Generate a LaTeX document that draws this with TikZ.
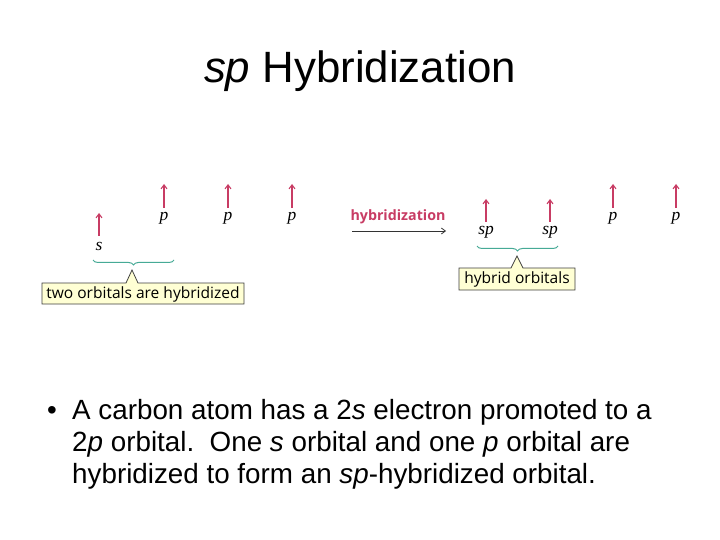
\documentclass[tikz,border=0pt]{standalone}
\usepackage{fontspec}
\setmainfont{Liberation Sans}
\newfontfamily\lblfont{Open Sans}
\newfontfamily\orbfont{Liberation Serif}
\usetikzlibrary{arrows.meta,decorations.pathreplacing}
\definecolor{spin}{RGB}{200,60,100}
\definecolor{brc}{RGB}{70,170,150}
\definecolor{boxfill}{RGB}{255,255,212}
\tikzset{
  spinarrow/.style={draw=spin,line width=1.1pt,-{Straight Barb[length=4pt,width=6pt]}},
  orb/.style={font=\orbfont\itshape\fontsize{17.5}{18}\selectfont,inner sep=0pt},
  brc/.style={draw=brc,line width=1pt,decorate,decoration={brace,amplitude=5pt}},
  callout/.style={draw=black!75,fill=boxfill,line width=0.8pt},
  lbl/.style={font=\lblfont\fontsize{15.6}{16}\selectfont,inner sep=0pt},
  body/.style={font=\fontsize{27.9}{30}\selectfont,anchor=base west,inner sep=0pt}
}
\begin{document}
\begin{tikzpicture}[x=1bp,y=-1bp]
\useasboundingbox[fill=white] (0,0) rectangle (720,540);
% title
\node[font=\fontsize{44}{48}\selectfont,anchor=base,inner sep=0pt] (title) at (360,83) {\textit{sp} Hybridization};
% left configuration
\node[orb] (s1) at (99,246) {s};
\node[orb] (p1) at (164,218) {p};
\node[orb] (p2) at (228,218) {p};
\node[orb] (p3) at (292,218) {p};
\coordinate (s1b) at (99,236); \coordinate (s1t) at (99,213);
\coordinate (p1b) at (164,208); \coordinate (p1t) at (164,184);
\coordinate (p2b) at (228,208); \coordinate (p2t) at (228,184);
\coordinate (p3b) at (292,208); \coordinate (p3t) at (292,184);
\draw[spinarrow] (s1b) -- (s1t);
\draw[spinarrow] (p1b) -- (p1t);
\draw[spinarrow] (p2b) -- (p2t);
\draw[spinarrow] (p3b) -- (p3t);
\coordinate (b1r) at (174,260); \coordinate (b1l) at (93,260);
\draw[brc] (b1r) -- (b1l);
\draw[callout] (42,283) -- (126,283) -- (132,270) -- (138,283) -- (244,283) -- (244,304) -- (42,304) -- cycle;
\node[lbl] (lab1) at (143,294) {two orbitals are hybridized};
% reaction arrow
\node[font=\lblfont\bfseries\fontsize{14.3}{15}\selectfont,text=spin,inner sep=0pt] (hyb) at (398,217) {hybridization};
\coordinate (ha) at (352,231); \coordinate (hb) at (446,231);
\draw[black!80,line width=0.8pt,-{Straight Barb[length=4pt,width=6pt]}] (ha) -- (hb);
% right configuration
\node[orb] (sp1) at (486,232) {sp};
\node[orb] (sp2) at (550,232) {sp};
\node[orb] (p4) at (613,218) {p};
\node[orb] (p5) at (676,218) {p};
\coordinate (sp1b) at (486,222); \coordinate (sp1t) at (486,199);
\coordinate (sp2b) at (550,222); \coordinate (sp2t) at (550,199);
\coordinate (p4b) at (613,208); \coordinate (p4t) at (613,184);
\coordinate (p5b) at (676,208); \coordinate (p5t) at (676,184);
\draw[spinarrow] (sp1b) -- (sp1t);
\draw[spinarrow] (sp2b) -- (sp2t);
\draw[spinarrow] (p4b) -- (p4t);
\draw[spinarrow] (p5b) -- (p5t);
\coordinate (b2r) at (558,246); \coordinate (b2l) at (477,246);
\draw[brc] (b2r) -- (b2l);
\draw[callout] (459,268) -- (511,268) -- (517,256) -- (523,268) -- (575,268) -- (575,290) -- (459,290) -- cycle;
\node[lbl] (lab2) at (517,279) {hybrid orbitals};
% bullet text
\node[font=\fontsize{27.9}{30}\selectfont,anchor=base,inner sep=0pt] (bul) at (52,419) {\textbullet};
\node[body] (l1) at (72,419) {A carbon atom has a 2\textit{s} electron promoted to a};
\node[body] (l2) at (72,451) {2\textit{p} orbital.\ \ One \textit{s} orbital and one \textit{p} orbital are};
\node[body] (l3) at (72,483) {hybridized to form an \textit{sp}-hybridized orbital.};
\end{tikzpicture}
\end{document}
